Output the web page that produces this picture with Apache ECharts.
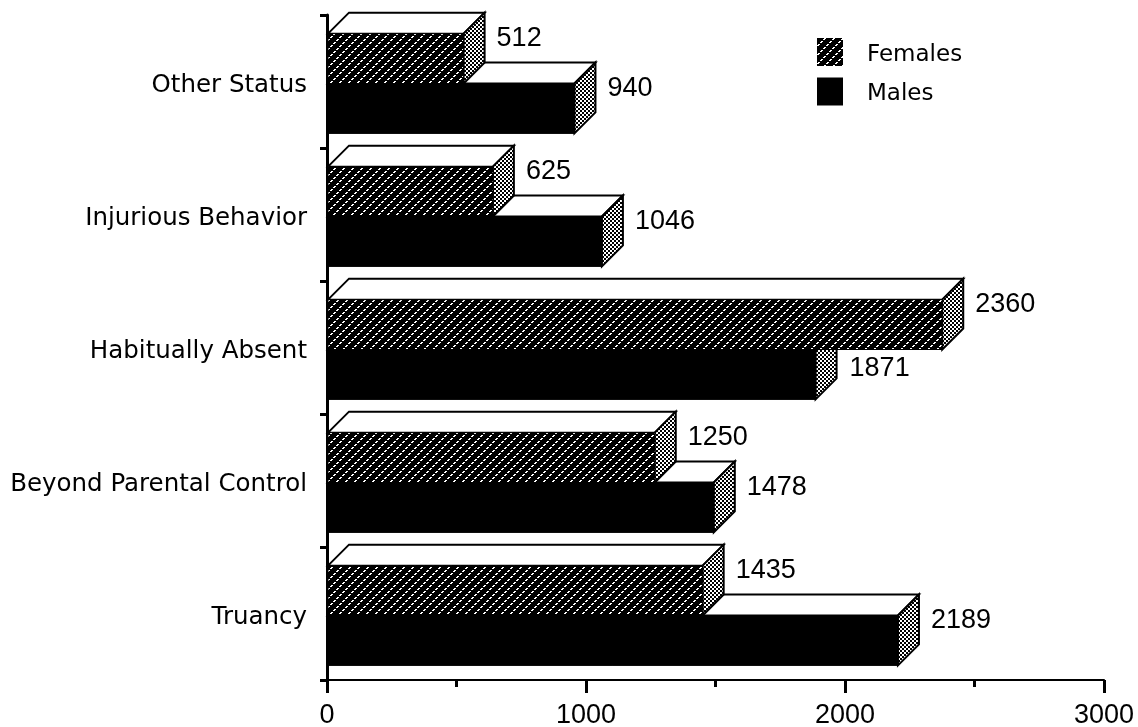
<!DOCTYPE html>
<html>
<head>
<meta charset="utf-8">
<title>Status offenses by sex</title>
<script src="https://cdn.jsdelivr.net/npm/echarts@6/dist/echarts.min.js"></script>
<style>
  html, body { margin: 0; padding: 0; background: #fff; }
  #main { width: 1138px; height: 727px; }
</style>
</head>
<body>
<div id="main"></div>
<script>
  // bottom to top, as on the category axis
  var categories = ['Truancy', 'Beyond Parental Control', 'Habitually Absent', 'Injurious Behavior', 'Other Status'];
  var females = [1435, 1250, 2360, 625, 512];
  var males = [2189, 1478, 1871, 1046, 940];

  var FONT = '"DejaVu Sans", sans-serif';
  var NUM_FONT = '"Liberation Sans", sans-serif';
  var DEPTH = 21;   // 3d offset in px
  var NUDGE = 4;    // bar ends sit a little right of the scale in the original

  // black with dotted white diagonals
  function hatchPattern() {
    var c = document.createElement('canvas');
    c.width = 9; c.height = 9;
    var ctx = c.getContext('2d');
    ctx.fillStyle = '#000';
    ctx.fillRect(0, 0, 9, 9);
    ctx.fillStyle = '#fff';
    for (var i = 0; i < 9; i++) {
      if (i % 3 !== 2) {
        ctx.fillRect(7 - i, i, 2, 1);
      }
    }
    return c;
  }
  // dither for the bar ends
  function ditherPattern() {
    var c = document.createElement('canvas');
    c.width = 4; c.height = 4;
    var ctx = c.getContext('2d');
    ctx.fillStyle = '#000';
    ctx.fillRect(0, 0, 4, 4);
    ctx.fillStyle = '#fff';
    ctx.fillRect(0, 0, 2, 2);
    ctx.fillRect(2, 2, 2, 2);
    return c;
  }
  var hatch = {image: hatchPattern(), repeat: 'repeat'};
  var dither = {image: ditherPattern(), repeat: 'repeat'};

  function makeRender(isFemale, fill) {
    return function (params, api) {
      var value = api.value(0);
      var idx = api.value(1);
      var zero = api.coord([0, idx]);
      var end = api.coord([value, idx]);
      var h = api.size([0, 1])[1] * 0.375;
      var x0 = zero[0] + 1;
      var x1 = end[0] + NUDGE;
      var mid = end[1] + 2;
      var top = isFemale ? mid - h : mid;
      var bottom = top + h;

      var labelX = x1 + DEPTH + 12;
      var labelY = top + 5;
      // short male bar under a longer female one: label drops clear of it
      if (!isFemale && females[idx] > males[idx]) {
        labelX += 1;
        labelY += 14;
      }

      var line = {stroke: '#000', lineWidth: 2, lineJoin: 'miter'};
      return {
        type: 'group',
        children: [
          {
            type: 'polygon',
            shape: {points: [[x0, top], [x0 + DEPTH, top - DEPTH], [x1 + DEPTH, top - DEPTH], [x1, top]]},
            style: Object.assign({fill: '#fff'}, line)
          },
          {
            type: 'polygon',
            shape: {points: [[x1, top], [x1 + DEPTH, top - DEPTH], [x1 + DEPTH, bottom - DEPTH], [x1, bottom]]},
            style: Object.assign({fill: dither}, line)
          },
          {
            type: 'rect',
            shape: {x: x0, y: top, width: x1 - x0, height: h},
            style: {fill: fill, stroke: '#000', lineWidth: 1}
          },
          {
            type: 'text',
            style: {
              text: String(value),
              x: labelX,
              y: labelY,
              fill: '#000',
              fontSize: 27,
              fontFamily: NUM_FONT,
              verticalAlign: 'middle'
            }
          }
        ]
      };
    };
  }

  var myChart = echarts.init(document.getElementById('main'), null, {renderer: 'canvas'});
  myChart.setOption({
    animation: false,
    backgroundColor: '#fff',
    grid: {left: 327, right: 34, top: 15, bottom: 47, outerBoundsMode: 'none'},
    legend: {
      data: ['Females', 'Males'],
      orient: 'vertical',
      left: 812,
      top: 33,
      itemWidth: 26,
      itemHeight: 28,
      itemGap: 11,
      icon: 'rect',
      formatter: '{t|{name}}',
      textStyle: {
        color: '#000',
        rich: {t: {color: '#000', fontSize: 23, fontFamily: FONT, padding: [6, 0, 0, 19]}}
      }
    },
    xAxis: {
      type: 'value',
      min: 0,
      max: 3000,
      interval: 1000,
      splitLine: {show: false},
      axisLine: {show: true, lineStyle: {color: '#000', width: 2}},
      axisTick: {show: true, length: 13, lineStyle: {color: '#000', width: 3}},
      minorTick: {show: true, splitNumber: 2, length: 7, lineStyle: {color: '#000', width: 3}},
      axisLabel: {
        color: '#000',
        fontSize: 27,
        fontFamily: NUM_FONT,
        margin: 22,
        formatter: function (v) { return String(v); }
      }
    },
    yAxis: {
      type: 'category',
      data: categories,
      axisLine: {show: true, lineStyle: {color: '#000', width: 3}},
      axisTick: {show: true, length: 7, lineStyle: {color: '#000', width: 3}},
      axisLabel: {
        interval: 0,
        margin: 20,
        formatter: '{t|{value}}',
        rich: {t: {color: '#000', fontSize: 24.5, fontFamily: FONT, padding: [8, 0, 0, 0]}}
      }
    },
    series: [
      {
        name: 'Males',
        type: 'custom',
        clip: false,
        itemStyle: {color: '#000'},
        encode: {x: 0, y: 1},
        data: males.map(function (v, i) { return [v, i]; }),
        renderItem: makeRender(false, '#000')
      },
      {
        name: 'Females',
        type: 'custom',
        clip: false,
        itemStyle: {color: hatch},
        encode: {x: 0, y: 1},
        data: females.map(function (v, i) { return [v, i]; }),
        renderItem: makeRender(true, hatch)
      }
    ]
  });
</script>
</body>
</html>
